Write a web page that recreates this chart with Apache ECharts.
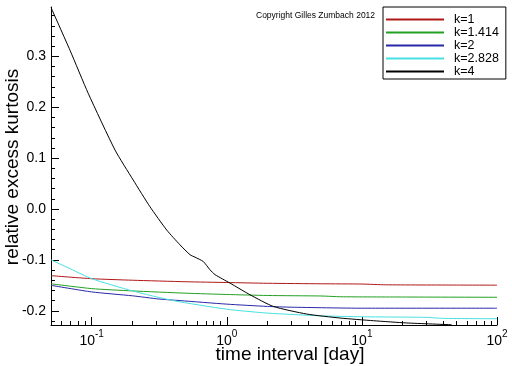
<!DOCTYPE html>
<html>
<head>
<meta charset="utf-8">
<script src="https://cdn.jsdelivr.net/npm/echarts@6/dist/echarts.min.js"></script>
<style>html,body{margin:0;padding:0;background:#fff}#c{width:512px;height:366px}</style>
</head>
<body>
<div id="c"></div>
<script>
const seriesNames = ['k=1', 'k=1.414', 'k=2', 'k=2.828', 'k=4'];
const seriesColors = ['#b01818', '#22a022', '#2828a8', '#48e0e0', '#000000'];
const xAxisTitle = 'time interval [day]';
const yAxisTitle = 'relative excess kurtosis';

const k1 = [[0.05,-0.131],[0.1,-0.137],[0.2,-0.140],[0.5,-0.143],[1,-0.1445],[2,-0.146],[5,-0.147],[10,-0.1475],[15,-0.149],[50,-0.1495],[100,-0.1497]];
const k1414 = [[0.05,-0.147],[0.1,-0.1565],[0.2,-0.161],[0.5,-0.1655],[1,-0.168],[2,-0.170],[5,-0.171],[7,-0.1725],[20,-0.173],[100,-0.1735]];
const k2 = [[0.05,-0.150],[0.1,-0.163],[0.2,-0.1706],[0.316,-0.177],[0.45,-0.180],[1,-0.187],[2,-0.1915],[3,-0.193],[10,-0.195],[100,-0.195]];
const k2828 = [[0.05,-0.100],[0.07,-0.118],[0.1,-0.137],[0.2,-0.161],[0.4,-0.180],[1,-0.197],[2,-0.2046],[5,-0.210],[10,-0.2118],[30,-0.213],[40,-0.215],[100,-0.2157]];
const k4 = [[0.05,0.396],[0.0691,0.312],[0.0944,0.227],[0.149,0.1157],[0.203,0.0569],[0.270,0.0045],[0.359,-0.0412],[0.451,-0.0706],[0.535,-0.090],[0.582,-0.0947],[0.670,-0.1033],[0.752,-0.1196],[0.818,-0.129],[1.057,-0.1457],[1.486,-0.1686],[2.21,-0.1915],[3.91,-0.2065],[6.89,-0.2143],[12.2,-0.2196],[21.5,-0.224],[46.2,-0.2275]];
const seriesData = [k1, k1414, k2, k2828, k4];

const xMajor = [0.1, 1, 10, 100];
const xMajorExp = ['-1', '0', '1', '2'];
const xMinor = [0.06,0.07,0.08,0.09,0.2,0.3,0.4,0.5,0.6,0.7,0.8,0.9,2,3,4,5,6,7,8,9,20,30,40,50,60,70,80,90];
const yMajor = [-0.2, -0.1, 0.0, 0.1, 0.2, 0.3];
const yMinor = [-0.22,-0.18,-0.16,-0.14,-0.12,-0.08,-0.06,-0.04,-0.02,0.02,0.04,0.06,0.08,0.12,0.14,0.16,0.18,0.22,0.24,0.26,0.28,0.32,0.34,0.36,0.38];

const xMin = 0.05, xMax = 100, yMin = -0.228, yMax = 0.397;
const FONT = "'Liberation Sans', Arial, sans-serif";

const chart = echarts.init(document.getElementById('c'), null, {renderer: 'canvas'});
const lineStyleAxis = {color: '#000', width: 1};
chart.setOption({
  animation: false,
  backgroundColor: '#fff',
  textStyle: {fontFamily: FONT},
  title: {
    text: 'Copyright Gilles Zumbach 2012',
    left: 256, top: 11, padding: 0,
    textStyle: {fontSize: 8.5, fontWeight: 'normal', color: '#000', fontFamily: FONT}
  },
  graphic: [
    {type: 'text', x: 290, y: 355, style: {text: xAxisTitle, fontSize: 19, fontFamily: FONT, fill: '#000', align: 'center', verticalAlign: 'middle'}},
    {type: 'text', x: 12.5, y: 167, rotation: Math.PI / 2, style: {text: yAxisTitle, fontSize: 19, fontFamily: FONT, fill: '#000', align: 'center', verticalAlign: 'middle'}}
  ],
  legend: {
    orient: 'vertical', left: 383, top: 7,
    padding: [6, 7, 1, 2], itemGap: 0,
    itemWidth: 58, itemHeight: 13,
    borderColor: '#000', borderWidth: 1,
    itemStyle: {opacity: 0},
    data: seriesNames,
    textStyle: {fontSize: 12.5, lineHeight: 13, color: '#000', padding: [0, 0, 0, 5], fontFamily: FONT}
  },
  grid: {left: 51, right: 15, top: 7, bottom: 41, containLabel: false, outerBoundsMode: 'none'},
  xAxis: [{
    type: 'log', min: xMin, max: xMax, position: 'bottom',
    axisLine: {show: true, onZero: false, lineStyle: lineStyleAxis},
    axisTick: {show: true, inside: true, length: 8, lineStyle: lineStyleAxis, customValues: xMajor},
    axisLabel: {
      customValues: xMajor, margin: 4, color: '#000',
      formatter: function (v) {
        const i = xMajor.findIndex(m => Math.abs(Math.log10(m) - Math.log10(v)) < 1e-6);
        return '{b|10}{s|' + (i >= 0 ? xMajorExp[i] : '') + '}';
      },
      rich: {
        b: {fontSize: 14, padding: [5, 0, 0, 0], verticalAlign: 'bottom', color: '#000', fontFamily: FONT},
        s: {fontSize: 10, verticalAlign: 'top', color: '#000', fontFamily: FONT}
      }
    },
    splitLine: {show: false}
  }, {
    type: 'log', min: xMin, max: xMax, position: 'bottom', gridIndex: 0,
    axisLine: {show: false, onZero: false},
    axisTick: {show: true, inside: true, length: 4, lineStyle: lineStyleAxis, customValues: xMinor},
    axisLabel: {show: false},
    splitLine: {show: false}
  }],
  yAxis: [{
    type: 'value', min: yMin, max: yMax, position: 'left',
    axisLine: {show: true, onZero: false, lineStyle: lineStyleAxis},
    axisTick: {show: true, inside: true, length: 8, lineStyle: lineStyleAxis, customValues: yMajor},
    axisLabel: {customValues: yMajor, margin: 5, fontSize: 14, color: '#000',
      formatter: v => v.toFixed(1)},
    splitLine: {show: false}
  }, {
    type: 'value', min: yMin, max: yMax, position: 'left', gridIndex: 0,
    axisLine: {show: false, onZero: false},
    axisTick: {show: true, inside: true, length: 4, lineStyle: lineStyleAxis, customValues: yMinor},
    axisLabel: {show: false},
    splitLine: {show: false}
  }],
  series: seriesNames.map((n, i) => ({
    name: n, type: 'line', xAxisIndex: 0, yAxisIndex: 0,
    data: seriesData[i], showSymbol: false, symbol: 'none',
    smooth: 0.2,
    lineStyle: {color: seriesColors[i], width: 1},
    itemStyle: {color: seriesColors[i]},
    clip: true
  }))
});
</script>
</body>
</html>
